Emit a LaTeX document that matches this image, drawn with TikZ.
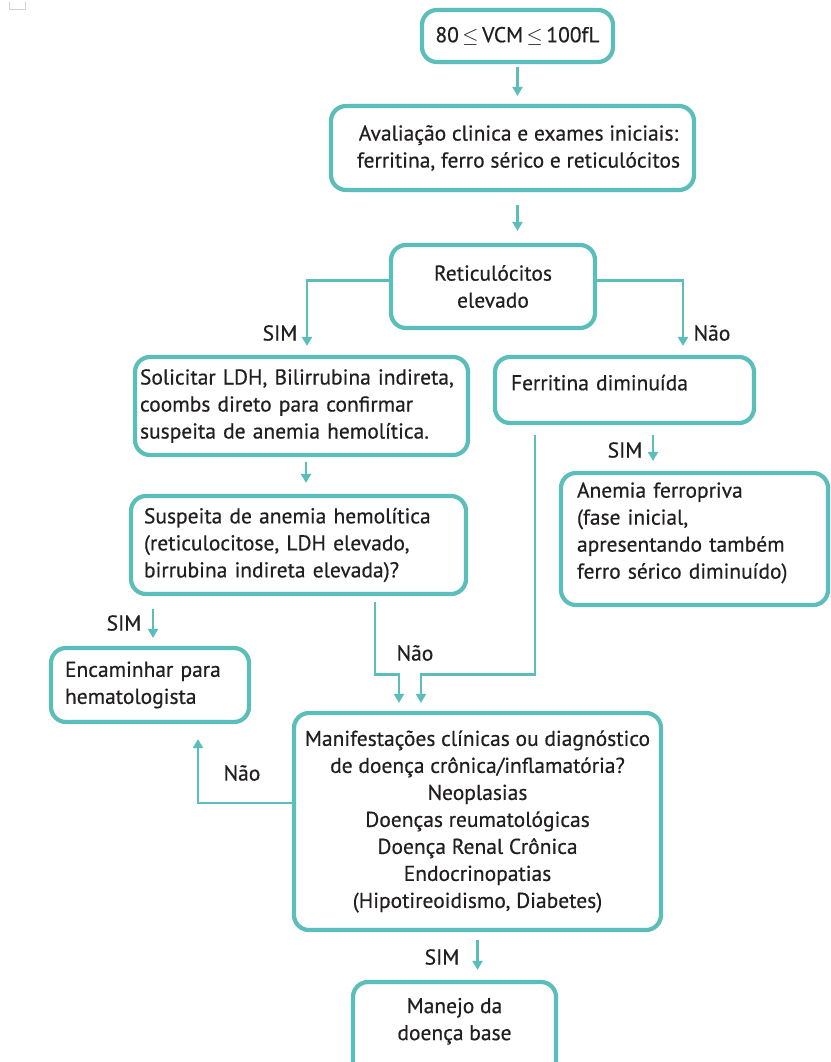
\documentclass[tikz,border=0pt]{standalone}
\usepackage{fontspec}
\setmainfont{PT Sans}[FakeBold=0.5]
\usetikzlibrary{arrows.meta}
\definecolor{tealc}{RGB}{91,190,186}
\definecolor{txtc}{RGB}{35,31,32}
\begin{document}
\begin{tikzpicture}[x=1pt,y=-1pt,
  box/.style={draw=tealc, line width=4.2pt, rounded corners=15pt, inner ysep=0pt, text=txtc, font=\fontsize{21.5}{27}\selectfont},
  cbox/.style={box, align=center, inner xsep=0pt},
  lbox/.style={box, align=left},
  arr/.style={draw=tealc, line width=2.8pt, -{Triangle[length=9pt,width=10pt]}},
  lbl/.style={text=txtc, font=\fontsize{21.5}{24}\selectfont, inner sep=0pt}]
\useasboundingbox[fill=white] (0,0) rectangle (830,1062);
\draw[gray!35, line width=0.8pt] (9,2) -- (9,9) -- (25,9) -- (25,2);

\node[cbox, minimum width=191, minimum height=52] (b1) at (517.5,36) {80\,$\mathord{\leq}$\,VCM\,$\mathord{\leq}$\,100fL};
\node[cbox, minimum width=363, minimum height=84] (b2) at (512.5,148) {\hspace*{12pt}Avaliação clinica e exames iniciais:\\\hspace*{12pt}ferritina, ferro sérico e reticulócitos};
\node[cbox, minimum width=204, minimum height=83] (b3) at (493,286.5) {Reticulócitos\\elevado};
\node[lbox, minimum width=333, minimum height=98, text width=323, inner xsep=5] (b4) at (301.5,406) {Solicitar LDH, Bilirrubina indireta,\\coombs direto para confirmar\\suspeita de anemia hemolítica.};
\node[lbox, minimum width=259, minimum height=66, text width=227, inner xsep=16] (b5) at (624.5,390) {Ferritina diminuída\rule[-15pt]{0pt}{0pt}};
\node[lbox, minimum width=267, minimum height=132, text width=235, inner xsep=16] (b6) at (694.5,539) {Anemia ferropriva\\(fase inicial,\\apresentando também\\ferro sérico diminuído)\rule[-17pt]{0pt}{0pt}};
\node[lbox, minimum width=335, minimum height=98, text width=309, inner xsep=13] (b7) at (298.5,545) {Suspeita de anemia hemolítica\\(reticulocitose, LDH elevado,\\birrubina indireta elevada)?};
\node[lbox, minimum width=198, minimum height=74, text width=170, inner xsep=14] (b8) at (150,685) {Encaminhar para\\hematologista};
\node[cbox, minimum width=367, minimum height=217] (b9) at (477.5,821.5) {Manifestações clínicas ou diagnóstico\\de doença crônica/inflamatória?\\Neoplasias\\Doenças reumatológicas\\Doença Renal Crônica\\Endocrinopatias\\(Hipotireoidismo, Diabetes)};
\node[cbox, minimum width=203, minimum height=98] (b10) at (454.5,1031) {Manejo da\\doença base\rule[-24pt]{0pt}{0pt}};

\draw[arr, shorten <=3pt, shorten >=8pt] (b1.south) -- (b1.south |- b2.north);
\draw[arr, shorten <=13pt, shorten >=12pt] (b2.south -| b1.south) -- (b3.north -| b1.south);
\draw[arr, shorten >=9pt] ([yshift=6pt]b3.west) -| ([xshift=5.5pt]b4.north);
\draw[arr, shorten >=9pt] ([yshift=6pt]b3.east) -| ([xshift=58.5pt]b5.north);
\draw[arr, shorten <=5pt, shorten >=11pt] ([xshift=4.5pt]b4.south) -- ([xshift=4.5pt]b4.south |- b7.north);
\draw[arr, shorten <=10pt, shorten >=10pt] ([xshift=28.5pt]b5.south) -- ([xshift=28.5pt]b5.south |- b6.north);
\draw[arr, shorten <=13pt, shorten >=8pt] ([xshift=3pt]b8.north |- b7.south) -- ([xshift=3pt]b8.north);
\draw[arr, shorten <=6pt, shorten >=8pt] ([xshift=76.5pt]b7.south) -- ++(0,78) -| ([xshift=-78.5pt]b9.north);
\draw[arr, shorten <=10pt, shorten >=8pt] ([xshift=-89.5pt]b5.south) -- ++(0,249) -| ([xshift=-56.5pt]b9.north);
\draw[arr, shorten >=15pt] ([yshift=18.5pt]b9.west) -| ([xshift=48pt]b8.south);
\draw[arr, shorten <=8pt, shorten >=10pt] (b9.south) -- (b9.south |- b10.north);

\node[lbl] (l1) at (280,333) {SIM};
\node[lbl] (l2) at (712,333) {Não};
\node[lbl] (l3) at (625,450) {SIM};
\node[lbl] (l4) at (124,623) {SIM};
\node[lbl] (l5) at (415,653) {Não};
\node[lbl] (l6) at (242,773) {Não};
\node[lbl] (l7) at (442,957) {SIM};
\end{tikzpicture}
\end{document}
